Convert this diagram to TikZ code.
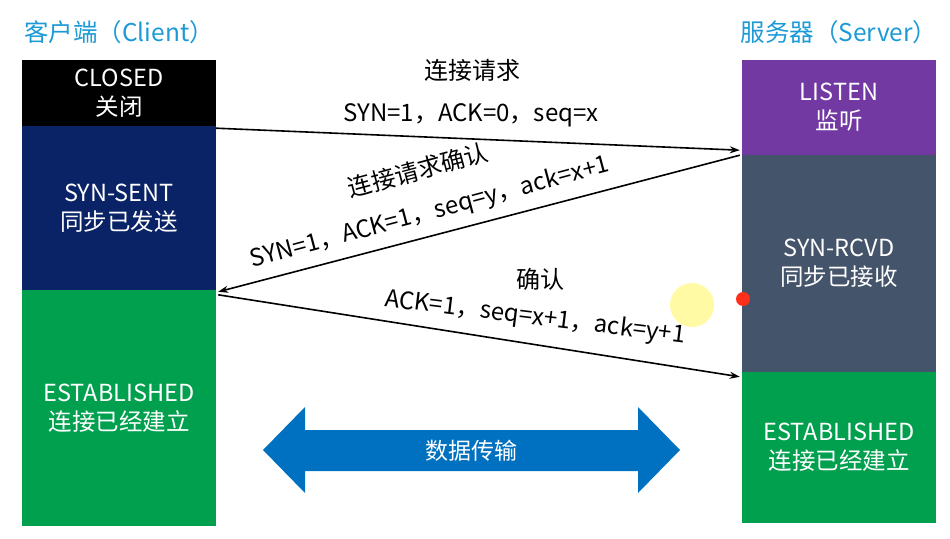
\documentclass[tikz,border=0pt]{standalone}
\usepackage{fontspec}
\setmainfont{Noto Sans CJK SC}
\usepackage{tikz}
\usetikzlibrary{arrows.meta, positioning}
\definecolor{titleblue}{HTML}{1C9AD6}
\definecolor{navy}{HTML}{0A2366}
\definecolor{estgreen}{HTML}{00A04F}
\definecolor{listenpurple}{HTML}{7339A3}
\definecolor{slate}{HTML}{44546A}
\definecolor{xferblue}{HTML}{0070C0}

\begin{document}
\begin{tikzpicture}[x=1pt, y=-1pt,
    sbox/.style={rectangle, minimum width=194pt, inner sep=0pt,
                 align=center, text=white,
                 font=\fontsize{23.5}{29}\selectfont},
    ttl/.style={text=titleblue, font=\fontsize{24.5}{28}\selectfont},
    lbl/.style={font=\fontsize{24}{28}\selectfont},
    arr/.style={-{Stealth[length=10pt, width=7pt]}, line width=1.6pt},
]
  \useasboundingbox (0,0) rectangle (950,538);

  % Titles
  \node[ttl] (cli) at (119,32) {客户端（Client）};
  \node[ttl] (srv) at (839,32) {服务器（Server）};

  % Client column
  \node[sbox, fill=black,    minimum height=66pt]  (closed)  at (119,93)  {CLOSED\\关闭};
  \node[sbox, fill=navy,     minimum height=164pt] (synsent) at (119,208) {SYN-SENT\\同步已发送};
  \node[sbox, fill=estgreen, minimum height=236pt] (cest)    at (119,408) {ESTABLISHED\\连接已经建立};

  % Server column
  \node[sbox, fill=listenpurple, minimum height=95pt]  (listen)  at (839,107.5) {LISTEN\\监听};
  \node[sbox, fill=slate,        minimum height=217pt] (synrcvd) at (839,263.5) {SYN-RCVD\\同步已接收};
  \node[sbox, fill=estgreen,     minimum height=151pt] (sest)    at (839,447.5) {ESTABLISHED\\连接已经建立};

  % Handshake arrows
  \draw[arr] ([yshift=-2pt]closed.south east) -- ([xshift=-2pt, yshift=5pt]listen.south west);
  \draw[arr] ([xshift=-2pt]listen.south west) -- ([xshift=2pt, yshift=-2pt]cest.north east);
  \draw[arr] ([xshift=2pt, yshift=-5pt]cest.north east) -- ([xshift=-2pt, yshift=-5pt]sest.north west);

  % Labels
  \node[lbl] (req)      at (472,70)  {连接请求};
  \node[lbl] (reqf)     at (471,115) {SYN=1，ACK=0，seq=x};
  \node[lbl, rotate=15] (ackreq)  at (418,170) {连接请求确认};
  \node[lbl, rotate=15] (ackreqf) at (430,213) {SYN=1，ACK=1，seq=y，ack=x+1};
  \node[lbl] (cfm)      at (540,279) {确认};
  \node[lbl, rotate=-7] (cfmf)    at (535,318) {ACK=1，seq=x+1，ack=y+1};

  % Data transfer
  \fill[xferblue] (263,450) -- (305,407) -- (305,430) -- (638,430) -- (638,407)
    -- (680,450) -- (638,493) -- (638,471) -- (305,471) -- (305,493) -- cycle;
  \node[lbl, text=white, font=\fontsize{23}{27}\selectfont] (xfer) at (471,451) {数据传输};

  % Pointer marks
  \fill[yellow!45, opacity=0.8] (692,305) circle (22);
  \fill[red!80!orange!90!white] (743,299) circle (7);
\end{tikzpicture}
\end{document}
